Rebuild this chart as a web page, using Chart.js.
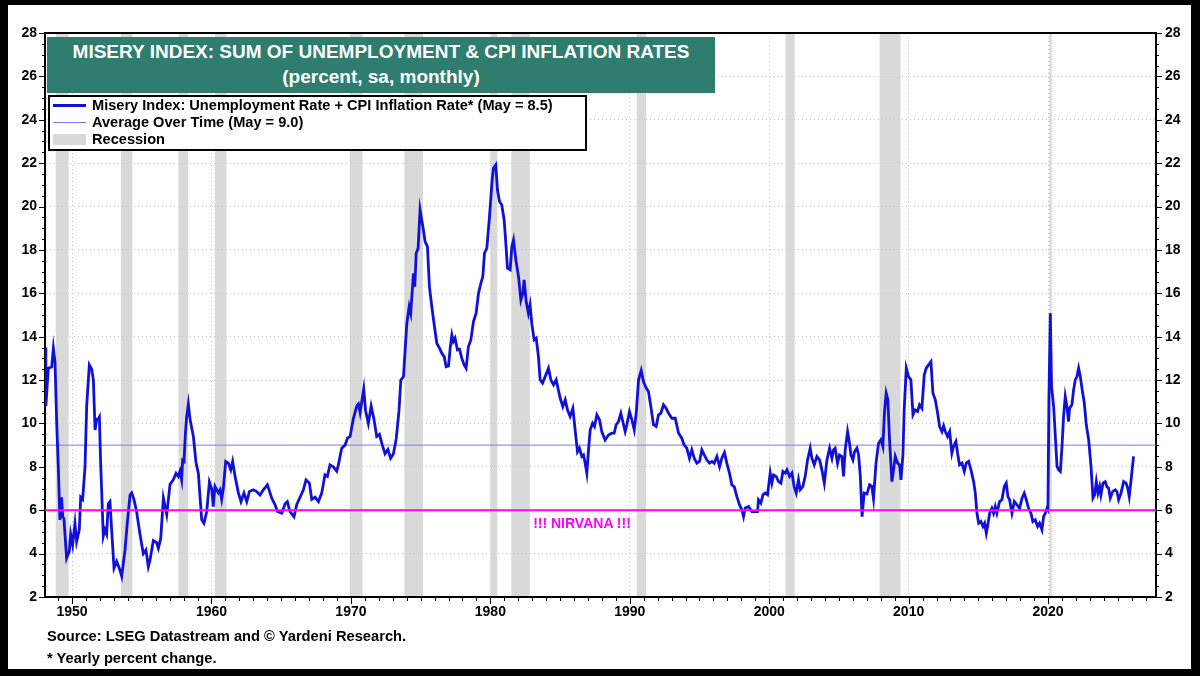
<!DOCTYPE html>
<html>
<head>
<meta charset="utf-8">
<title>Misery Index</title>
<script src="https://cdn.jsdelivr.net/npm/chart.js@4.4.1/dist/chart.umd.min.js"></script>
<style>
    html, body { margin: 0; padding: 0; background: #000; }
    #page { position: relative; width: 1200px; height: 676px; overflow: hidden;
            font-family: "Liberation Sans", Arial, sans-serif; font-weight: bold; }
    #panel { position: absolute; left: 8px; top: 5px; width: 1183px; height: 664px; background: #fff; }
    #chart { position: absolute; left: 0; top: 0; }
    #title { position: absolute; left: 47px; top: 37px; width: 668px; height: 56px; background: #2e7d6f;
             color: #fff; text-align: center; font-size: 19px; line-height: 25px; padding-top: 2px; box-sizing: border-box; }
    #legend { position: absolute; left: 48px; top: 95px; width: 539px; height: 56px; background: #fff;
              border: 2px solid #000; box-sizing: border-box; font-size: 14.6px; color: #000; }
    .row { position: relative; height: 17px; line-height: 17px; padding-left: 42px; white-space: nowrap; }
    .swatch { position: absolute; left: 3px; width: 33px; }
    #nirvana { position: absolute; left: 482px; top: 514px; width: 200px; text-align: center;
               font-size: 14px; line-height: 18px; color: #ff00ff; }
    .note { position: absolute; left: 47px; font-size: 14.7px; color: #000; white-space: nowrap; }
</style>
</head>
<body>
<div id="page">
    <div id="panel"></div>
    <canvas id="chart" width="1200" height="676"></canvas>
    <div id="title">MISERY INDEX: SUM OF UNEMPLOYMENT &amp; CPI INFLATION RATES<br>(percent, sa, monthly)</div>
    <div id="legend">
        <div class="row"><span class="swatch" style="top:7px;height:3px;background:#1010d8"></span>Misery Index: Unemployment Rate + CPI Inflation Rate* (May = 8.5)</div>
        <div class="row"><span class="swatch" style="top:8px;height:1px;background:#7a7aff"></span>Average Over Time (May = 9.0)</div>
        <div class="row"><span class="swatch" style="top:3px;height:11px;background:#d9d9d9"></span>Recession</div>
    </div>
    <div id="nirvana">!!! NIRVANA !!!</div>
    <div class="note" style="top:628px">Source: LSEG Datastream and © Yardeni Research.</div>
    <div class="note" style="top:650px">* Yearly percent change.</div>
</div>
<script>
// Misery index (decimal year, percent)
const dates = [
    1948.06, 1948.12, 1948.30, 1948.54, 1948.66, 1948.78, 1948.90, 1949.02, 1949.13, 1949.25,
    1949.33, 1949.42, 1949.61, 1949.80, 1949.90, 1950.04, 1950.21, 1950.33, 1950.52, 1950.62,
    1950.76, 1950.93, 1951.05, 1951.24, 1951.41, 1951.53, 1951.65, 1951.77, 1951.88, 1951.96,
    1952.05, 1952.24, 1952.36, 1952.48, 1952.60, 1952.72, 1952.84, 1953.01, 1953.20, 1953.39,
    1953.56, 1953.68, 1953.80, 1953.96, 1954.16, 1954.28, 1954.44, 1954.63, 1954.87, 1955.11,
    1955.30, 1955.47, 1955.59, 1955.83, 1956.07, 1956.19, 1956.36, 1956.55, 1956.79, 1957.03,
    1957.26, 1957.46, 1957.62, 1957.74, 1957.86, 1957.93, 1958.03, 1958.13, 1958.22, 1958.34,
    1958.46, 1958.70, 1958.89, 1959.06, 1959.18, 1959.30, 1959.46, 1959.66, 1959.85, 1960.01,
    1960.13, 1960.25, 1960.49, 1960.61, 1960.73, 1960.85, 1961.02, 1961.21, 1961.38, 1961.52,
    1961.69, 1961.93, 1962.12, 1962.33, 1962.53, 1962.72, 1963.00, 1963.24, 1963.48, 1963.72,
    1964.01, 1964.32, 1964.56, 1964.73, 1965.04, 1965.28, 1965.44, 1965.63, 1965.92, 1966.11,
    1966.35, 1966.59, 1966.78, 1967.02, 1967.19, 1967.43, 1967.67, 1967.91, 1968.14, 1968.31,
    1968.50, 1968.74, 1968.98, 1969.10, 1969.34, 1969.58, 1969.75, 1969.94, 1970.18, 1970.42,
    1970.54, 1970.66, 1970.80, 1970.92, 1971.05, 1971.25, 1971.45, 1971.65, 1971.85, 1972.05,
    1972.25, 1972.45, 1972.65, 1972.85, 1973.05, 1973.25, 1973.45, 1973.58, 1973.77, 1974.01,
    1974.18, 1974.29, 1974.37, 1974.49, 1974.58, 1974.68, 1974.82, 1974.96, 1975.08, 1975.20,
    1975.32, 1975.49, 1975.63, 1975.80, 1975.99, 1976.16, 1976.35, 1976.52, 1976.69, 1976.83,
    1977.00, 1977.12, 1977.24, 1977.35, 1977.47, 1977.64, 1977.79, 1977.95, 1978.12, 1978.26,
    1978.43, 1978.60, 1978.79, 1978.98, 1979.15, 1979.32, 1979.46, 1979.58, 1979.75, 1979.94,
    1980.11, 1980.22, 1980.39, 1980.51, 1980.66, 1980.82, 1980.99, 1981.11, 1981.23, 1981.42,
    1981.54, 1981.66, 1981.83, 1982.02, 1982.19, 1982.33, 1982.42, 1982.57, 1982.73, 1982.85,
    1982.97, 1983.14, 1983.29, 1983.45, 1983.57, 1983.74, 1983.93, 1984.17, 1984.34, 1984.53,
    1984.72, 1985.01, 1985.20, 1985.37, 1985.53, 1985.72, 1985.92, 1986.08, 1986.25, 1986.39,
    1986.56, 1986.68, 1986.80, 1986.92, 1987.04, 1987.16, 1987.33, 1987.47, 1987.64, 1987.83,
    1987.99, 1988.23, 1988.47, 1988.71, 1988.88, 1989.02, 1989.19, 1989.36, 1989.50, 1989.67,
    1989.79, 1989.98, 1990.15, 1990.32, 1990.46, 1990.63, 1990.82, 1990.98, 1991.18, 1991.34,
    1991.51, 1991.70, 1991.89, 1992.06, 1992.23, 1992.42, 1992.61, 1992.78, 1993.02, 1993.26,
    1993.50, 1993.73, 1993.90, 1994.09, 1994.28, 1994.45, 1994.62, 1994.81, 1995.00, 1995.17,
    1995.34, 1995.53, 1995.72, 1995.89, 1996.05, 1996.25, 1996.44, 1996.60, 1996.79, 1996.96,
    1997.15, 1997.32, 1997.49, 1997.68, 1997.87, 1998.04, 1998.16, 1998.28, 1998.52, 1998.76,
    1998.99, 1999.16, 1999.23, 1999.40, 1999.55, 1999.71, 1999.88, 2000.07, 2000.19, 2000.31,
    2000.50, 2000.67, 2000.84, 2000.98, 2001.15, 2001.27, 2001.46, 2001.63, 2001.79, 2001.94,
    2002.10, 2002.22, 2002.41, 2002.58, 2002.75, 2002.94, 2003.06, 2003.23, 2003.42, 2003.61,
    2003.78, 2003.95, 2004.14, 2004.33, 2004.50, 2004.61, 2004.73, 2004.90, 2005.04, 2005.21,
    2005.33, 2005.45, 2005.62, 2005.76, 2005.86, 2006.00, 2006.12, 2006.29, 2006.41, 2006.53,
    2006.66, 2006.81, 2007.01, 2007.20, 2007.36, 2007.48, 2007.66, 2007.84, 2008.01, 2008.15,
    2008.27, 2008.39, 2008.51, 2008.63, 2008.80, 2008.92, 2009.04, 2009.21, 2009.35, 2009.45,
    2009.59, 2009.68, 2009.83, 2009.99, 2010.16, 2010.31, 2010.47, 2010.64, 2010.78, 2010.95,
    2011.12, 2011.26, 2011.43, 2011.60, 2011.74, 2011.91, 2012.08, 2012.22, 2012.39, 2012.51,
    2012.63, 2012.79, 2012.94, 2013.10, 2013.22, 2013.39, 2013.51, 2013.65, 2013.82, 2013.99,
    2014.13, 2014.30, 2014.47, 2014.66, 2014.78, 2014.90, 2015.02, 2015.18, 2015.33, 2015.45,
    2015.57, 2015.66, 2015.81, 2015.97, 2016.09, 2016.21, 2016.33, 2016.52, 2016.69, 2016.86,
    2017.00, 2017.12, 2017.24, 2017.41, 2017.58, 2017.77, 2017.96, 2018.13, 2018.29, 2018.44,
    2018.60, 2018.77, 2018.91, 2019.08, 2019.25, 2019.39, 2019.56, 2019.68, 2019.80, 2019.92,
    2019.99, 2020.06, 2020.16, 2020.25, 2020.40, 2020.52, 2020.64, 2020.76, 2020.88, 2021.00,
    2021.11, 2021.23, 2021.35, 2021.47, 2021.54, 2021.71, 2021.83, 2021.95, 2022.07, 2022.19,
    2022.31, 2022.43, 2022.60, 2022.74, 2022.91, 2023.08, 2023.22, 2023.34, 2023.46, 2023.58,
    2023.70, 2023.79, 2023.94, 2024.10, 2024.22, 2024.34, 2024.46, 2024.63, 2024.82, 2024.94,
    2025.06, 2025.23, 2025.42, 2025.59, 2025.71, 2025.82, 2025.94, 2026.13
];
const misery = [
    13.5, 10.8, 12.55, 12.6, 13.47, 12.8, 10.0, 7.9, 5.55, 6.6,
    5.7, 5.6, 3.79, 4.1, 4.9, 4.4, 5.4, 4.56, 5.1, 6.6,
    6.5, 8.0, 10.8, 12.7, 12.5, 12.0, 9.7, 10.2, 10.2, 10.3,
    8.2, 4.8, 5.1, 4.9, 6.3, 6.4, 5.1, 3.33, 3.64, 3.33,
    2.95, 3.56, 4.17, 5.4, 6.7, 6.8, 6.5, 5.94, 4.9, 4.0,
    4.17, 3.4, 3.7, 4.6, 4.5, 4.25, 4.7, 6.56, 5.8, 7.2,
    7.4, 7.7, 7.56, 7.8, 7.4, 8.3, 8.25, 9.55, 10.3, 10.9,
    10.2, 9.4, 8.2, 7.7, 6.6, 5.56, 5.4, 5.94, 7.3, 7.0,
    6.17, 7.1, 6.8, 6.94, 6.5, 7.0, 8.25, 8.17, 7.86, 8.25,
    7.56, 6.8, 6.4, 6.8, 6.4, 6.86, 6.94, 6.86, 6.7, 6.94,
    7.17, 6.56, 6.25, 5.94, 5.86, 6.3, 6.4, 5.94, 5.7, 6.25,
    6.6, 6.94, 7.4, 7.25, 6.5, 6.6, 6.4, 6.8, 7.63, 7.56,
    8.09, 8.0, 7.8, 8.09, 8.86, 9.0, 9.32, 9.4, 10.24, 10.8,
    10.9, 10.5, 11.1, 11.6, 10.6, 10.0, 10.8, 10.2, 9.4, 9.5,
    9.0, 8.6, 8.8, 8.4, 8.6, 9.3, 10.6, 12.0, 12.16, 14.62,
    15.39, 15.08, 15.85, 16.92, 16.31, 17.85, 18.08, 19.84, 19.38, 18.92,
    18.38, 18.15, 16.31, 15.39, 14.47, 13.7, 13.47, 13.24, 13.08, 12.62,
    12.65, 13.47, 14.08, 13.78, 13.93, 13.39, 13.42, 13.01, 12.7, 12.55,
    13.55, 13.85, 14.7, 15.08, 16.0, 16.46, 16.77, 17.85, 18.08, 19.54,
    21.07, 21.76, 21.92, 20.76, 20.23, 20.07, 19.38, 18.31, 17.16, 17.08,
    18.15, 18.46, 17.54, 16.77, 15.69, 16.0, 16.62, 15.62, 15.08, 15.47,
    14.62, 13.85, 13.93, 13.08, 12.01, 11.86, 12.16, 12.55, 12.01, 11.78,
    12.01, 11.16, 10.78, 11.09, 10.63, 10.32, 10.7, 9.7, 8.7, 8.86,
    8.48, 8.55, 8.17, 7.71, 8.78, 9.7, 10.01, 9.86, 10.4, 10.17,
    9.63, 9.24, 9.47, 9.55, 9.55, 9.94, 10.09, 10.47, 10.09, 9.63,
    9.94, 10.55, 10.17, 9.7, 10.47, 12.01, 12.44, 11.93, 11.63, 11.47,
    10.78, 9.94, 9.86, 10.4, 10.47, 10.86, 10.7, 10.47, 10.24, 10.24,
    9.55, 9.32, 9.01, 8.86, 8.4, 8.78, 8.4, 8.17, 8.25, 8.78,
    8.55, 8.32, 8.17, 8.25, 8.17, 8.48, 8.01, 8.4, 8.66, 8.17,
    7.71, 7.17, 7.09, 6.63, 6.25, 6.02, 5.71, 6.1, 6.17, 5.94,
    5.94, 5.94, 6.48, 6.33, 6.71, 6.79, 6.71, 7.71, 7.25, 7.63,
    7.56, 7.32, 7.25, 7.79, 7.71, 7.86, 7.56, 7.71, 7.09, 6.79,
    7.4, 6.94, 7.09, 7.56, 8.32, 8.86, 8.4, 8.09, 8.48, 8.32,
    7.86, 7.25, 8.32, 8.86, 8.4, 8.78, 8.86, 8.17, 8.55, 8.48,
    7.56, 8.78, 9.63, 9.09, 8.55, 8.32, 8.7, 8.86, 8.55, 7.6,
    5.7, 6.8, 6.75, 7.17, 7.1, 6.53, 8.17, 9.09, 9.25, 8.94,
    10.55, 11.4, 11.09, 9.25, 7.32, 7.86, 8.48, 8.17, 8.09, 7.4,
    8.55, 10.63, 12.55, 12.16, 12.01, 10.4, 10.63, 10.55, 10.86, 10.7,
    12.24, 12.55, 12.7, 12.85, 11.4, 11.09, 10.47, 9.86, 9.63, 9.89,
    9.63, 9.4, 9.63, 8.63, 8.94, 9.17, 8.63, 8.09, 8.17, 7.79,
    8.17, 8.25, 7.86, 7.32, 6.79, 5.86, 5.4, 5.48, 5.25, 5.4,
    4.94, 5.25, 5.86, 6.09, 5.86, 6.17, 5.86, 6.4, 6.48, 7.09,
    7.25, 6.63, 6.48, 5.86, 6.4, 6.25, 6.09, 6.56, 6.79, 6.48,
    6.09, 5.86, 5.48, 5.56, 5.25, 5.4, 5.1, 5.71, 5.86, 6.09,
    6.02, 11.09, 15.08, 11.7, 10.78, 9.4, 8.02, 7.86, 7.79, 8.94,
    10.32, 11.24, 10.78, 10.09, 10.7, 10.86, 11.55, 12.01, 12.16, 12.55,
    12.16, 11.63, 10.93, 9.94, 9.25, 8.02, 6.56, 6.71, 7.32, 6.79,
    7.09, 6.71, 7.25, 7.32, 7.09, 7.02, 6.56, 6.86, 6.94, 6.86,
    6.48, 6.79, 7.32, 7.25, 7.02, 6.63, 7.32, 8.48
];

const averageValue = 9.0;   // average over time
const nirvanaValue = 6.0;   // the "nirvana" line

// NBER recessions (decimal years)
const recessionStart = [1948.83, 1953.50, 1957.63, 1960.25, 1969.92, 1973.83, 1980.00, 1981.50, 1990.50, 2001.17, 2007.92, 2020.08];
const recessionEnd   = [1949.75, 1954.33, 1958.33, 1961.08, 1970.83, 1975.17, 1980.50, 1982.83, 1991.17, 2001.83, 2009.42, 2020.25];

const xTickLabels = [1950, 1960, 1970, 1980, 1990, 2000, 2010, 2020];
const yTickLabels = [2, 4, 6, 8, 10, 12, 14, 16, 18, 20, 22, 24, 26, 28];

const xMin = 1948.06;
const xMax = 2027.74;

Chart.defaults.font.family = '"Liberation Sans", Arial, sans-serif';

// Recession shading underneath, minor ticks and the top frame line on top
const framePlugin = {
    id: 'frame',
    beforeDraw(chart) {
        const { ctx, chartArea: a, scales: { x } } = chart;
        ctx.save();
        ctx.fillStyle = '#d9d9d9';
        recessionStart.forEach((s, i) => {
            const x1 = x.getPixelForValue(s);
            const x2 = x.getPixelForValue(recessionEnd[i]);
            ctx.fillRect(x1, a.top, Math.max(x2 - x1, 2.5), a.bottom - a.top);
        });
        ctx.restore();
    },
    afterDraw(chart) {
        const { ctx, chartArea: a, scales: { x, y } } = chart;
        ctx.save();
        ctx.strokeStyle = '#000';
        ctx.lineWidth = 1;
        ctx.beginPath();
        for (let yr = Math.ceil(xMin); yr <= Math.floor(xMax); yr++) {
            const px = Math.round(x.getPixelForValue(yr)) + 0.5;
            const len = yr % 10 === 0 ? 7 : 4;
            ctx.moveTo(px, a.bottom);
            ctx.lineTo(px, a.bottom + len);
        }
        for (let v = y.min; v <= y.max; v += 0.5) {
            const py = Math.round(y.getPixelForValue(v)) + 0.5;
            const len = v % 2 === 0 ? 6 : 3;
            ctx.moveTo(a.left - len, py);
            ctx.lineTo(a.left, py);
            ctx.moveTo(a.right, py);
            ctx.lineTo(a.right + len, py);
        }
        ctx.stroke();
        ctx.lineWidth = 2;
        ctx.beginPath();
        ctx.moveTo(a.left - 1, a.top);
        ctx.lineTo(a.right + 1, a.top);
        ctx.stroke();
        ctx.restore();
    }
};

const tickFont = { size: 14, weight: 'bold' };

new Chart(document.getElementById('chart').getContext('2d'), {
    type: 'line',
    data: {
        datasets: [
            {
                label: 'Average Over Time',
                data: [{ x: xMin, y: averageValue }, { x: xMax, y: averageValue }],
                borderColor: '#7a7aff',
                borderWidth: 1,
                pointRadius: 0,
                order: 3
            },
            {
                label: 'Misery Index',
                data: dates.map((d, i) => ({ x: d, y: misery[i] })),
                borderColor: '#1010d8',
                borderWidth: 2.8,
                pointRadius: 0,
                tension: 0,
                order: 2
            },
            {
                label: 'Nirvana',
                data: [{ x: xMin, y: nirvanaValue }, { x: xMax, y: nirvanaValue }],
                borderColor: '#ff00ff',
                borderWidth: 2,
                pointRadius: 0,
                order: 1
            }
        ]
    },
    options: {
        responsive: false,
        animation: false,
        layout: { padding: { top: 33, left: 0, right: 0, bottom: 0 } },
        plugins: {
            legend: { display: false },
            tooltip: { enabled: false }
        },
        scales: {
            x: {
                type: 'linear',
                min: xMin,
                max: xMax,
                afterBuildTicks: s => { s.ticks = xTickLabels.map(v => ({ value: v })); },
                afterFit: s => { s.height = 79; },
                ticks: { color: '#000', font: tickFont, padding: 7, maxRotation: 0, autoSkip: false,
                         callback: v => String(v) },
                grid: { color: '#c4c4c4', lineWidth: 1, drawTicks: false },
                border: { color: '#000', width: 2, dash: [1, 3] }
            },
            y: {
                position: 'left',
                min: 2,
                max: 28,
                afterBuildTicks: s => { s.ticks = yTickLabels.map(v => ({ value: v })); },
                afterFit: s => { s.width = 45; },
                ticks: { color: '#000', font: tickFont, padding: 8, autoSkip: false },
                grid: { color: '#c4c4c4', lineWidth: 1, drawTicks: false },
                border: { color: '#000', width: 2, dash: [1, 3] }
            },
            y2: {
                position: 'right',
                min: 2,
                max: 28,
                afterBuildTicks: s => { s.ticks = yTickLabels.map(v => ({ value: v })); },
                afterFit: s => { s.width = 44; },
                ticks: { color: '#000', font: tickFont, padding: 9, autoSkip: false },
                grid: { drawOnChartArea: false, drawTicks: false },
                border: { color: '#000', width: 2 }
            }
        }
    },
    plugins: [framePlugin]
});
</script>
</body>
</html>
